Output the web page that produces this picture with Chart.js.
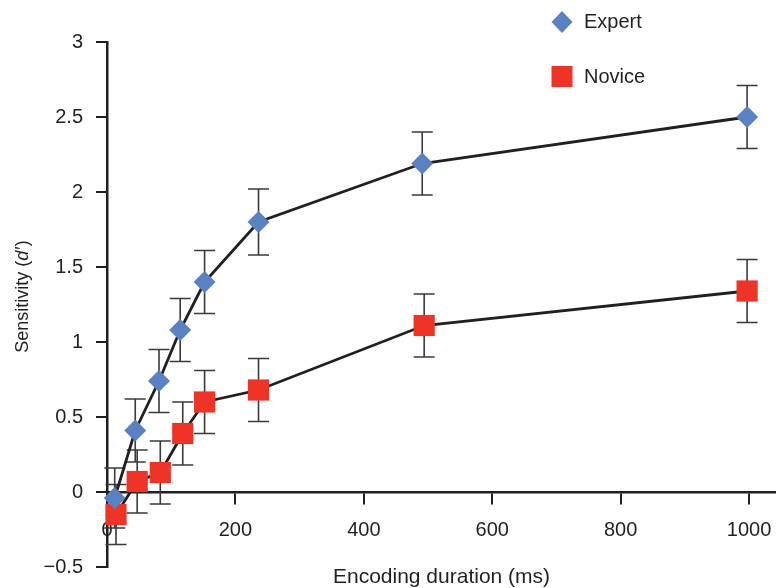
<!DOCTYPE html>
<html>
<head>
<meta charset="utf-8">
<script src="https://cdn.jsdelivr.net/npm/chart.js@4/dist/chart.umd.min.js"></script>
<style>
  body { margin: 0; background: #fff; }
  #wrap { width: 776px; height: 588px; }
</style>
</head>
<body>
<div id="wrap"><canvas id="chart" width="776" height="588"></canvas></div>
<script>
// values
const expertX = [12, 44, 81, 114, 152, 236, 491, 997];
const expertY = [-0.04, 0.41, 0.74, 1.08, 1.40, 1.80, 2.19, 2.50];
const expertErr = [0.20, 0.21, 0.21, 0.21, 0.21, 0.22, 0.21, 0.21];

const noviceX = [14, 47, 83, 118, 152, 236, 494, 997];
const noviceY = [-0.15, 0.07, 0.13, 0.39, 0.60, 0.68, 1.11, 1.34];
const noviceErr = [0.20, 0.21, 0.21, 0.21, 0.21, 0.21, 0.21, 0.21];

const xTicks = [0, 200, 400, 600, 800, 1000];
const yTicks = [-0.5, 0, 0.5, 1, 1.5, 2, 2.5, 3];

const ink = "#231f20";
const blue = "#5a82c3";
const red = "#ee3427";
const font = "'Liberation Sans', Arial, Helvetica, sans-serif";

function points(xs, ys) {
    return xs.map((x, i) => ({ x: x, y: ys[i] }));
}

// error bars drawn behind the lines and markers
const errorBars = {
    id: "errorBars",
    beforeDatasetsDraw(chart) {
        const ctx = chart.ctx;
        const xs = chart.scales.x, ys = chart.scales.y;
        const sets = [[expertX, expertY, expertErr], [noviceX, noviceY, noviceErr]];
        ctx.save();
        ctx.strokeStyle = "#3a3a3a";
        ctx.lineWidth = 1.6;
        sets.forEach(([px, py, pe]) => {
            px.forEach((xv, i) => {
                const x = xs.getPixelForValue(xv);
                const top = ys.getPixelForValue(py[i] + pe[i]);
                const bot = ys.getPixelForValue(py[i] - pe[i]);
                ctx.beginPath();
                ctx.moveTo(x, top); ctx.lineTo(x, bot);
                ctx.moveTo(x - 10.5, top); ctx.lineTo(x + 10.5, top);
                ctx.moveTo(x - 10.5, bot); ctx.lineTo(x + 10.5, bot);
                ctx.stroke();
            });
        });
        ctx.restore();
    }
};

// legend in the top right corner + y title with italic d
const extras = {
    id: "extras",
    afterDraw(chart) {
        const ctx = chart.ctx;
        ctx.save();
        ctx.fillStyle = blue;
        ctx.beginPath();
        ctx.moveTo(562, 11); ctx.lineTo(572.5, 22); ctx.lineTo(562, 33); ctx.lineTo(551.5, 22);
        ctx.closePath();
        ctx.fill();
        ctx.fillStyle = red;
        ctx.fillRect(551.5, 66, 21, 21);

        ctx.fillStyle = ink;
        ctx.font = "20px " + font;
        ctx.textBaseline = "middle";
        ctx.textAlign = "left";
        ctx.fillText("Expert", 584, 22);
        ctx.fillText("Novice", 584, 77);

        // rotated y title
        ctx.translate(28, 297);
        ctx.rotate(-Math.PI / 2);
        ctx.textBaseline = "alphabetic";
        const a = "Sensitivity (", b = "d", c = "\u2032)";
        ctx.font = "18px " + font;
        const wa = ctx.measureText(a).width, wc = ctx.measureText(c).width;
        ctx.font = "italic 18px " + font;
        const wb = ctx.measureText(b).width;
        let x = -(wa + wb + wc) / 2;
        ctx.font = "18px " + font;
        ctx.fillText(a, x, 0);
        x += wa;
        ctx.font = "italic 18px " + font;
        ctx.fillText(b, x, 0);
        x += wb + 1;
        ctx.font = "18px " + font;
        ctx.fillText(c, x, 0);
        ctx.restore();
    }
};

const ctx = document.getElementById("chart").getContext("2d");
const chart = new Chart(ctx, {
    type: "line",
    data: {
        datasets: [
            {
                label: "Expert",
                data: points(expertX, expertY),
                borderColor: ink,
                borderWidth: 2.8,
                pointStyle: "rectRot",
                pointRadius: 11,
                pointHoverRadius: 11,
                pointBackgroundColor: blue,
                pointBorderWidth: 0,
                clip: false
            },
            {
                label: "Novice",
                data: points(noviceX, noviceY),
                borderColor: ink,
                borderWidth: 2.8,
                pointStyle: "rect",
                pointRadius: 15,
                pointHoverRadius: 15,
                pointBackgroundColor: red,
                pointBorderWidth: 0,
                clip: false
            }
        ]
    },
    options: {
        responsive: false,
        animation: false,
        events: [],
        layout: { autoPadding: false, padding: { top: 42, right: 0, bottom: 21, left: 0 } },
        plugins: { legend: { display: false }, tooltip: { enabled: false } },
        scales: {
            x: {
                type: "linear",
                position: { y: 0 },
                min: 0,
                max: 1042,
                afterBuildTicks: (s) => { s.ticks = xTicks.map(v => ({ value: v })); },
                afterFit: (s) => { s.paddingRight = 0; s.paddingLeft = 0; },
                ticks: {
                    font: { family: font, size: 20 },
                    color: ink,
                    padding: 15,
                    callback: (v) => String(v)
                },
                grid: { drawOnChartArea: false, drawTicks: true, tickLength: 11, color: ink, lineWidth: 2 },
                border: { color: ink, width: 2.5 },
                title: {
                    display: true,
                    text: "Encoding duration (ms)",
                    color: ink,
                    font: { family: font, size: 21 },
                    padding: { top: 8, bottom: 0 }
                }
            },
            y: {
                type: "linear",
                min: -0.5,
                max: 3,
                afterBuildTicks: (s) => { s.ticks = yTicks.map(v => ({ value: v })); },
                afterFit: (s) => { s.width = 107; s.paddingTop = 0; s.paddingBottom = 0; },
                ticks: {
                    font: { family: font, size: 20 },
                    color: ink,
                    padding: 13,
                    callback: (v) => (v < 0 ? "\u2212" + Math.abs(v) : String(v))
                },
                grid: { drawOnChartArea: false, drawTicks: true, tickLength: 11, color: ink, lineWidth: 2 },
                border: { color: ink, width: 2.5 }
            }
        }
    },
    plugins: [errorBars, extras]
});
</script>
</body>
</html>
